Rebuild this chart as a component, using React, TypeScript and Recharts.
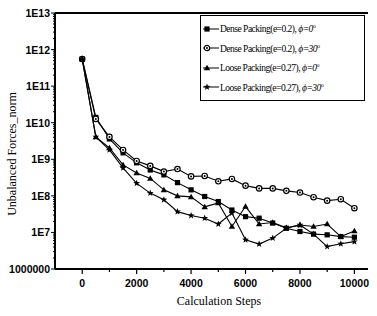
import React from "react";
import {
  LineChart,
  Line,
  XAxis,
  YAxis,
  Legend,
  ReferenceLine,
} from "recharts";

const steps = [
  0, 500, 1000, 1500, 2000, 2500, 3000, 3500, 4000, 4500, 5000, 5500, 6000,
  6500, 7000, 7500, 8000, 8500, 9000, 9500, 10000,
];

const dense0 = [
  5.5e11, 1.4e10, 3.6e9, 1.5e9, 8e8, 5.1e8, 3.75e8, 2.3e8, 1.46e8, 9.6e7, 7e7,
  4.1e7, 2.7e7, 2.45e7, 1.8e7, 1.3e7, 1.06e7, 9e6, 8.6e6, 7.7e6, 7.4e6,
];
const dense30 = [
  5.5e11, 1.27e10, 4.1e9, 1.8e9, 9e8, 6.6e8, 4.6e8, 5.4e8, 3.4e8, 3.5e8, 2.5e8,
  2.9e8, 1.9e8, 1.6e8, 1.6e8, 1.37e8, 1.23e8, 9.2e7, 7.4e7, 8.1e7, 4.6e7,
];
const loose0 = [
  5.5e11, 4.1e9, 2.05e9, 7e8, 4.2e8, 3e8, 1.46e8, 1e8, 9.4e7, 5e7, 6.4e7,
  1.45e7, 5.1e7, 1.7e7, 1.86e7, 1.34e7, 1.6e7, 1.45e7, 1.7e7, 7.7e6, 1.1e7,
];
const loose30 = [
  5.5e11, 4.1e9, 1.8e9, 5.8e8, 2.2e8, 1.19e8, 7.8e7, 3.7e7, 2.9e7, 2.45e7,
  1.7e7, 3.4e7, 6.3e6, 4.8e6, 7e6, 1.3e7, 1.6e7, 9e6, 4.1e6, 4.9e6, 5.6e6,
];

const xMajor = [0, 2000, 4000, 6000, 8000, 10000];
const xMinor = [1000, 3000, 5000, 7000, 9000];
const yMajor = [1e6, 1e7, 1e8, 1e9, 1e10, 1e11, 1e12, 1e13];

const data = steps.map((s, i) => ({
  step: s,
  dense0: dense0[i],
  dense30: dense30[i],
  loose0: loose0[i],
  loose30: loose30[i],
}));

// log minor ticks between decades
const yMinor: number[] = [];
for (let e = 6; e < 13; e++) {
  for (let m = 2; m <= 9; m++) yMinor.push(m * Math.pow(10, e));
}

const series = [
  { key: "dense0", shape: "square", name: "Dense Packing(e=0.2), ", ang: "0" },
  { key: "dense30", shape: "circle", name: "Dense Packing(e=0.2), ", ang: "30" },
  { key: "loose0", shape: "triangle", name: "Loose Packing(e=0.27), ", ang: "0" },
  { key: "loose30", shape: "star", name: "Loose Packing(e=0.27), ", ang: "30" },
];

function Marker({ shape, cx, cy }: { shape: string; cx: number; cy: number }) {
  if (shape === "square")
    return <rect x={cx - 2.6} y={cy - 2.6} width={5.2} height={5.2} fill="#000" />;
  if (shape === "circle")
    return (
      <g>
        <circle cx={cx} cy={cy} r={2.7} fill="#fff" stroke="#000" strokeWidth={1.2} />
        <circle cx={cx} cy={cy} r={1} fill="#000" />
      </g>
    );
  if (shape === "triangle")
    return (
      <polygon
        points={`${cx},${cy - 3.2} ${cx + 3.2},${cy + 2.3} ${cx - 3.2},${cy + 2.3}`}
        fill="#000"
      />
    );
  const pts: string[] = [];
  for (let i = 0; i < 10; i++) {
    const r = i % 2 === 0 ? 3.6 : 1.5;
    const a = -Math.PI / 2 + (i * Math.PI) / 5;
    pts.push(`${cx + r * Math.cos(a)},${cy + r * Math.sin(a)}`);
  }
  return <polygon points={pts.join(" ")} fill="#000" />;
}

const tickFont = {
  fontFamily: "'Liberation Sans', Arial, sans-serif",
  fontWeight: 700,
  fontSize: 10.5,
};

function XTick(props: any) {
  const { x, y, payload } = props;
  const major = xMajor.includes(payload.value);
  return (
    <g>
      <line x1={x} y1={y} x2={x} y2={y + (major ? 5 : 3)} stroke="#000" strokeWidth={1.2} />
      {major && (
        <text x={x} y={y + 18} textAnchor="middle" fill="#000" style={tickFont}>
          {payload.value}
        </text>
      )}
    </g>
  );
}

function YTick(props: any) {
  const { x, y, payload } = props;
  const v = payload.value;
  const major = yMajor.some((t) => Math.abs(t - v) / t < 1e-6);
  const label = v === 1e6 ? "1000000" : "1E" + Math.round(Math.log10(v));
  return (
    <g>
      <line x1={x - (major ? 4 : 2)} y1={y} x2={x} y2={y} stroke="#000" strokeWidth={1} />
      {major && (
        <text x={x - 5} y={y + 4} textAnchor="end" fill="#000" style={tickFont}>
          {label}
        </text>
      )}
    </g>
  );
}

function LegendBox() {
  return (
    <div
      style={{
        border: "1px solid #000",
        background: "#fff",
        width: 161,
        padding: "3px 0 3px 2px",
        fontFamily: "'Liberation Serif', 'Times New Roman', serif",
        fontSize: 9.5,
        color: "#000",
      }}
    >
      {series.map((s) => (
        <div key={s.key} style={{ display: "flex", alignItems: "center", height: 19.5 }}>
          <svg width={16} height={10} style={{ marginRight: 1 }}>
            <line x1={0} y1={5} x2={16} y2={5} stroke="#000" strokeWidth={1} />
            <Marker shape={s.shape} cx={4} cy={5} />
          </svg>
          <span style={{ whiteSpace: "nowrap", letterSpacing: -0.5 }}>
            {s.name}
            <i>ϕ=</i>
            <i>{s.ang}</i>
            <sup style={{ fontSize: 6 }}>o</sup>
          </span>
        </div>
      ))}
    </div>
  );
}

export default function App() {
  return (
    <div style={{ position: "absolute", left: 0, top: 0, background: "#fff" }}>
      <LineChart
        width={377}
        height={316}
        data={data}
        margin={{ top: 13, right: 9, bottom: 7, left: 0 }}
      >
        <XAxis
          dataKey="step"
          type="number"
          domain={[-1000, 10500]}
          ticks={[...xMajor, ...xMinor].sort((a, b) => a - b)}
          interval={0}
          tickSize={0}
          tickMargin={0}
          tickLine={false}
          tick={<XTick />}
          axisLine={{ stroke: "#000", strokeWidth: 2 }}
          height={40}
          label={{
            content: () => (
              <text
                x={219}
                y={305}
                textAnchor="middle"
                fill="#000"
                style={{ fontFamily: "'Liberation Serif', serif", fontSize: 12 }}
              >
                Calculation Steps
              </text>
            ),
          }}
        />
        <YAxis
          scale="log"
          domain={[1e6, 1e13]}
          ticks={[...yMajor, ...yMinor].sort((a, b) => a - b)}
          interval={0}
          allowDataOverflow
          tickSize={0}
          tickMargin={0}
          tickLine={false}
          tick={<YTick />}
          axisLine={{ stroke: "#000", strokeWidth: 2 }}
          width={55}
          label={{
            content: () => (
              <text
                x={16}
                y={154}
                transform="rotate(-90 16 154)"
                textAnchor="middle"
                fill="#000"
                style={{ fontFamily: "'Liberation Serif', serif", fontSize: 12 }}
              >
                Unbalanced Forces_norm
              </text>
            ),
          }}
        />
        <ReferenceLine y={1e13} stroke="#000" strokeWidth={2} />
        <Legend
          layout="vertical"
          align="center"
          verticalAlign="middle"
          wrapperStyle={{ left: 200, top: 15, width: 164 }}
          content={() => <LegendBox />}
        />
        {series.map((s) => (
          <Line
            key={s.key}
            dataKey={s.key}
            stroke="#000"
            strokeWidth={1.1}
            isAnimationActive={false}
            dot={(p: any) => <Marker key={`${s.key}-${p.index}`} shape={s.shape} cx={p.cx} cy={p.cy} />}
            activeDot={false}
          />
        ))}
      </LineChart>
    </div>
  );
}
